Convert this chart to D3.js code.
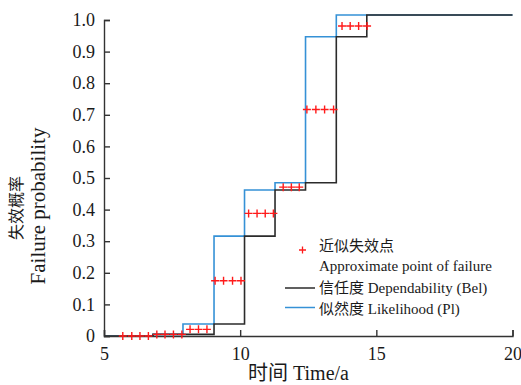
<!DOCTYPE html>
<html>
<head>
<meta charset="utf-8">
<script src="https://cdn.jsdelivr.net/npm/d3@7"></script>
<style>
body { margin: 0; background: #fff; }
text { font-family: "Liberation Serif", "Times New Roman", "Noto Sans CJK SC", serif; }
</style>
</head>
<body>
<script>
// step boundaries (time, a)
var stepTimes = [5, 6.8, 7.9, 9.04, 10.16, 11.28, 12.40, 13.53, 14.65, 20];
// Bel and Pl values on each step
var belValues = [0, 0.005, 0.005, 0.038, 0.316, 0.462, 0.485, 0.947, 1.016, 1.016];
var plValues  = [0, 0.005, 0.038, 0.316, 0.462, 0.485, 0.947, 1.016, 1.016, 1.016];

// approximate failure points
var failTimes = [5.69, 6.02, 6.32, 6.63, 6.94, 7.24, 7.55, 7.86,
                 8.16, 8.47, 8.78, 9.08, 9.39, 9.72, 10.03,
                 10.31, 10.62, 10.92, 11.22, 11.58, 11.88, 12.17,
                 12.45, 12.78, 13.10, 13.43, 13.74, 14.04, 14.35, 14.66];
var failProbs = [0, 0, 0, 0, 0.005, 0.005, 0.005, 0.005,
                 0.021, 0.021, 0.021, 0.175, 0.175, 0.175, 0.175,
                 0.388, 0.388, 0.388, 0.388, 0.471, 0.471, 0.471,
                 0.717, 0.717, 0.717, 0.717, 0.981, 0.981, 0.981, 0.981];

var xTicks = [5, 10, 15, 20];
var yTicks = [0, 0.1, 0.2, 0.3, 0.4, 0.5, 0.6, 0.7, 0.8, 0.9, 1.0];

var legendLabels = ["近似失效点", "Approximate point of failure",
                    "信任度 Dependability (Bel)", "似然度 Likelihood (Pl)"];

var svg = d3.select("body").append("svg")
            .attr("width", 521)
            .attr("height", 385);

var x = d3.scaleLinear().domain([5, 20]).range([104, 512.5]);
var y = d3.scaleLinear().domain([0, 1]).range([336, 20]);

//step lines
var line = d3.line()
             .x(function(d) { return x(d[0]); })
             .y(function(d) { return y(d[1]); })
             .curve(d3.curveStepAfter);

svg.append("path")
   .datum(d3.zip(stepTimes, plValues))
   .attr("d", line)
   .attr("fill", "none")
   .attr("stroke", "#3591d6")
   .attr("stroke-width", 1.6);

svg.append("path")
   .datum(d3.zip(stepTimes, belValues))
   .attr("d", line)
   .attr("fill", "none")
   .attr("stroke", "#2b2b2b")
   .attr("stroke-width", 1.6);

//axes
svg.append("g")
   .attr("transform", "translate(104,0)")
   .call(d3.axisLeft(y).tickValues(yTicks).tickSize(-6).tickPadding(9)
           .tickFormat(function(d) { return d === 0 ? "0" : d3.format(".1f")(d); }));

svg.append("g")
   .attr("transform", "translate(0,336)")
   .call(d3.axisBottom(x).tickValues(xTicks).tickSize(-6).tickPadding(11));

svg.selectAll(".tick text")
   .attr("font-size", "18px")
   .attr("fill", "#1a1a1a")
   .style("font-family", "'Liberation Serif', serif");
svg.selectAll(".domain, .tick line")
   .attr("stroke", "#333")
   .attr("stroke-width", 1.4);

//crosses
svg.selectAll(".pt")
   .data(d3.zip(failTimes, failProbs))
   .enter()
   .append("path")
   .attr("class", "pt")
   .attr("transform", function(d) { return "translate(" + x(d[0]) + "," + y(d[1]) + ")"; })
   .attr("d", "M-4,0H4M0,-4V4")
   .attr("stroke", "#ff1a1a")
   .attr("stroke-width", 1.4);

//axis titles
svg.append("text")
   .attr("x", 248).attr("y", 380)
   .attr("font-size", "20px")
   .attr("fill", "#1a1a1a")
   .text("时间 Time/a");

svg.append("text")
   .attr("transform", "translate(22,208) rotate(-90)")
   .attr("text-anchor", "middle")
   .attr("font-size", "16px")
   .attr("fill", "#1a1a1a")
   .text("失效概率");

svg.append("text")
   .attr("transform", "translate(45,206) rotate(-90)")
   .attr("text-anchor", "middle")
   .attr("font-size", "21px")
   .attr("fill", "#1a1a1a")
   .text("Failure probability");

//legend
var lg = svg.append("g");
lg.append("path")
  .attr("d", "M299,250H306M302.5,246.5V253.5")
  .attr("stroke", "#ff1a1a")
  .attr("stroke-width", 1.3);
lg.append("line").attr("x1", 285).attr("x2", 315).attr("y1", 288).attr("y2", 288)
  .attr("stroke", "#2b2b2b").attr("stroke-width", 1.5);
lg.append("line").attr("x1", 285).attr("x2", 315).attr("y1", 307.5).attr("y2", 307.5)
  .attr("stroke", "#3591d6").attr("stroke-width", 1.5);

var legendY = [251, 271, 293, 314];
lg.selectAll("text")
  .data(legendLabels)
  .enter()
  .append("text")
  .attr("x", 319)
  .attr("y", function(d, i) { return legendY[i]; })
  .attr("font-size", "15px")
  .attr("fill", "#1a1a1a")
  .text(function(d) { return d; });
</script>
</body>
</html>
